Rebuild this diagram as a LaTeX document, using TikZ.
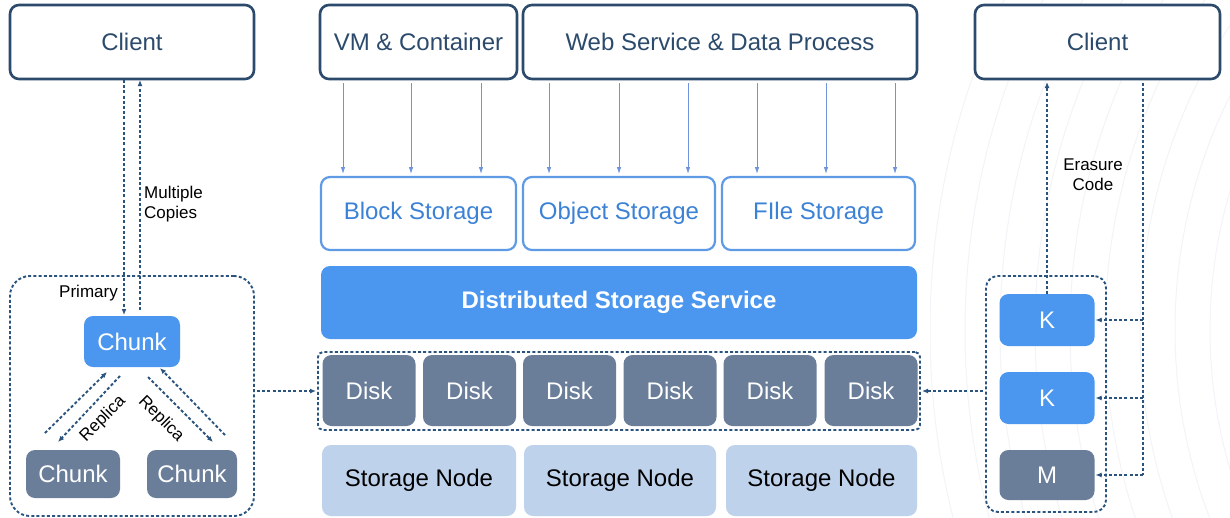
\documentclass[tikz,border=0pt]{standalone}
\usepackage{fontspec}
\setmainfont{Liberation Sans}
\usetikzlibrary{arrows.meta}
\definecolor{navy}{HTML}{2C4B6C}
\definecolor{dashcol}{HTML}{2A547E}
\definecolor{skyline}{HTML}{5E9BE4}
\definecolor{skytext}{HTML}{3B82D6}
\definecolor{bluefill}{HTML}{4B97EF}
\definecolor{slate}{HTML}{6A7E9A}
\definecolor{palefill}{HTML}{BED2EB}
\definecolor{flowcol}{HTML}{7094DB}
\definecolor{arcgray}{HTML}{F3F4F7}
\tikzset{
  box/.style={rounded corners=9pt, inner sep=0pt, outer sep=0pt, font=\fontsize{24}{28}\selectfont},
  topbox/.style={box, draw=navy, line width=2.6pt, text=navy, fill=white},
  svcbox/.style={box, draw=skyline, line width=2.2pt, text=skytext, fill=white},
  bluebox/.style={box, fill=bluefill, text=white},
  slatebox/.style={box, fill=slate, text=white},
  nodebox/.style={box, fill=palefill, text=black},
  group/.style={draw=dashcol, line width=1.9pt, dash pattern=on 3pt off 2.2pt, inner sep=0pt, outer sep=0pt},
  dline/.style={draw=dashcol, line width=1.9pt, dash pattern=on 3pt off 2.2pt},
  darrow/.style={dline, -{Latex[length=6pt,width=5pt]}},
  flow/.style={draw=flowcol, line width=0.9pt, -{Latex[length=7pt,width=4.5pt]}},
  lbl/.style={font=\fontsize{17}{20}\selectfont, text=black, inner sep=0pt, align=center},
}
\begin{document}
\begin{tikzpicture}[x=1pt,y=-1pt]
\useasboundingbox (0,0) rectangle (1230,517);
\fill[white] (0,0) rectangle (1230,517);

% faint arcs in the background on the right
\begin{scope}
  \clip (930,0) rectangle (1230,517);
  \foreach \r in {420,455,...,800}
    \draw[arcgray, line width=1pt] (1700,330) circle[radius=\r];
\end{scope}

% top row: clients and workloads
\node[topbox, minimum width=244pt, minimum height=74pt] (lclient) at (132,42) {Client};
\node[topbox, minimum width=197pt, minimum height=74pt] (vm) at (418.5,42) {VM \& Container};
\node[topbox, minimum width=394pt, minimum height=74pt] (web) at (720,42) {Web Service \& Data Process};
\node[topbox, minimum width=245pt, minimum height=74pt] (rclient) at (1097.5,42) {Client};

% storage interfaces
\node[svcbox, minimum width=195pt, minimum height=73pt] (block) at (418.5,213.5) {Block Storage};
\node[svcbox, minimum width=192pt, minimum height=73pt] (object) at (619,213.5) {Object Storage};
\node[svcbox, minimum width=193pt, minimum height=73pt] (file) at (818.5,213.5) {FIle Storage};

% service layer
\node[bluebox, minimum width=596pt, minimum height=73pt, font=\fontsize{24}{28}\selectfont\bfseries] (dss) at (619,302.5) {Distributed Storage Service};

% disks
\node[group, rounded corners=5pt, minimum width=602pt, minimum height=78pt] (disks) at (619,391) {};
\foreach \x [count=\i] in {369,469.5,569.5,670,770,871}
  \node[slatebox, minimum width=93pt, minimum height=71pt] (disk\i) at (\x,390.5) {Disk};

% storage nodes
\node[nodebox, minimum width=194pt, minimum height=71pt] (sn1) at (419,480.5) {Storage Node};
\node[nodebox, minimum width=192pt, minimum height=71pt] (sn2) at (620,480.5) {Storage Node};
\node[nodebox, minimum width=191pt, minimum height=71pt] (sn3) at (821.5,480.5) {Storage Node};

% workload arrows into the interfaces
\foreach \x in {343,411,481}
  \draw[flow, shorten >=3pt] (vm.south -| \x,0) ++(0,4) -- (block.north -| \x,0);
\foreach \x in {549,619,688}
  \draw[flow, shorten >=3pt] (web.south -| \x,0) ++(0,4) -- (object.north -| \x,0);
\foreach \x in {757,826,895}
  \draw[flow, shorten >=3pt] (web.south -| \x,0) ++(0,4) -- (file.north -| \x,0);

% replication group (left)
\node[group, rounded corners=20pt, minimum width=244pt, minimum height=240pt] (lgroup) at (132,396) {};
\node[bluebox, minimum width=96pt, minimum height=51pt] (pchunk) at (132,341.5) {Chunk};
\node[slatebox, minimum width=94pt, minimum height=48pt] (lchunk) at (73,474) {Chunk};
\node[slatebox, minimum width=90pt, minimum height=48pt] (rchunk) at (192,474) {Chunk};

\draw[darrow, shorten >=1pt, shorten <=1pt] (lclient.south -| 124,0) -- (pchunk.north -| 124,0);
\draw[darrow, shorten >=1pt] (140,310) coordinate (upstart) -- (lclient.south -| upstart);
\node[lbl, anchor=west, align=left] (copies) at (144,204) {Multiple\\Copies};
\node[lbl, anchor=east] (primary) at (118,293) {Primary};

\coordinate (ra1) at (45,433);  \coordinate (ra2) at (107,372);
\coordinate (rb1) at (120,376); \coordinate (rb2) at (58,442);
\coordinate (rc1) at (148,377); \coordinate (rc2) at (213,442);
\coordinate (rd1) at (225,435); \coordinate (rd2) at (160,368);
\draw[darrow] (ra1) -- (ra2);
\draw[darrow] (rb1) -- (rb2);
\draw[darrow] (rc1) -- (rc2);
\draw[darrow] (rd1) -- (rd2);
\node[lbl, rotate=45] (rep1) at (103,419) {Replica};
\node[lbl, rotate=-45] (rep2) at (161,419) {Replica};

\draw[darrow, shorten <=3pt, shorten >=2pt] (lgroup.east |- disks.west) -- (disks.west);

% erasure-code group (right)
\node[group, rounded corners=12pt, minimum width=120pt, minimum height=236pt] (rgroup) at (1046,394) {};
\node[bluebox, minimum width=95pt, minimum height=52pt] (k1) at (1047,320) {K};
\node[bluebox, minimum width=95pt, minimum height=52pt] (k2) at (1047,398) {K};
\node[slatebox, minimum width=95pt, minimum height=50pt] (mblk) at (1047,475) {M};

\draw[darrow, shorten >=3pt] (k1.north) -- (rclient.south -| k1.north);
\coordinate (ectop) at (1143,79);
\coordinate (ecbot) at (1143,475);
\draw[dline] (rclient.south -| ectop) ++(0,4) -- (ecbot);
\draw[darrow, shorten >=1pt] (ectop |- k1.east) -- (k1.east);
\draw[darrow, shorten >=1pt] (ectop |- k2.east) -- (k2.east);
\draw[darrow, shorten >=1pt] (ecbot) -- (mblk.east);
\node[lbl] (erasure) at (1093,175) {Erasure\\Code};

\draw[darrow, shorten <=3pt, shorten >=2pt] (rgroup.west |- disks.east) -- (disks.east);
\end{tikzpicture}
\end{document}
